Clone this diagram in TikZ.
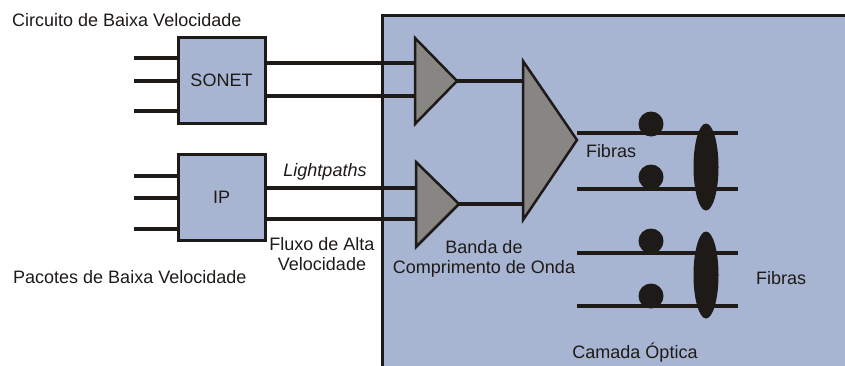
\documentclass[tikz,border=0pt]{standalone}
\usepackage{fontspec}
\setmainfont{Liberation Sans}
\definecolor{panel}{RGB}{167,181,210}
\definecolor{tri}{RGB}{135,134,131}
\definecolor{ink}{RGB}{30,26,24}
\begin{document}
\begin{tikzpicture}[x=1pt,y=-1pt,
  wire/.style={draw=ink,line width=3.2pt},
  box/.style={draw=ink,fill=panel,line width=3pt,minimum width=87pt,minimum height=86pt,inner sep=0pt},
  amp/.style={draw=ink,fill=tri,line width=2.5pt,line join=miter},
  blob/.style={fill=ink},
  lbl/.style={font=\fontsize{18}{20}\selectfont,text=ink,inner sep=0pt}]
\useasboundingbox (0,0) rectangle (845,365);
\clip (0,0) rectangle (845,365);
% optical layer panel
\draw[draw=ink,fill=panel,line width=3pt] (382,15) rectangle (860,380);
% boxes
\node[box,lbl] (sonet) at (221.5,80) {SONET};
\node[box,lbl] (ip) at (221.5,197) {IP};
% inputs
\foreach \y in {58,81,111} \draw[wire] (134,\y) -- (sonet.west |- 0,\y);
\foreach \y in {176,198,229} \draw[wire] (134,\y) -- (ip.west |- 0,\y);
% triangles
\coordinate (t1a) at (415,38); \coordinate (t1b) at (415,124); \coordinate (t1) at (457,81);
\coordinate (t2a) at (416,162); \coordinate (t2b) at (416,247); \coordinate (t2) at (459,204);
\coordinate (t3a) at (523,61); \coordinate (t3b) at (523,220); \coordinate (t3) at (577,140);
% outputs to amps
\draw[wire] (sonet.east |- 0,63) -- (t1a |- 0,63);
\draw[wire] (sonet.east |- 0,96) -- (t1a |- 0,96);
\draw[wire] (ip.east |- 0,188) -- (t2a |- 0,188);
\draw[wire] (ip.east |- 0,219) -- (t2a |- 0,219);
\draw[wire] (t1) -- (t3a |- t1);
\draw[wire] (t2) -- (t3a |- t2);
\draw[amp] (t1a) -- (t1) -- (t1b) -- cycle;
\draw[amp] (t2a) -- (t2) -- (t2b) -- cycle;
\draw[amp] (t3a) -- (t3) -- (t3b) -- cycle;
% fibers
\coordinate (fe) at (738,0);
\foreach \y/\n in {133/f1,189/f2,253/f3,306/f4} {
  \coordinate (\n) at (577,\y);
  \draw[wire] (\n) -- (fe |- \n);
}
\foreach \y in {124,177,241,296} \fill[blob] (651,\y) circle (12.5);
\fill[blob] (706,167) ellipse (12.5 and 43.5);
\fill[blob] (706,275) ellipse (12.5 and 43.5);
% labels
\node[lbl,anchor=west] (l1) at (12,20) {Circuito de Baixa Velocidade};
\node[lbl,anchor=west] (l2) at (13,277) {Pacotes de Baixa Velocidade};
\node[lbl,font=\fontsize{18}{20}\selectfont\itshape] (lp) at (325,172) {Lightpaths};
\node[lbl,align=center] (fx) at (322,254.5) {Fluxo de Alta\\Velocidade};
\node[lbl,align=center] (bd) at (484,259) {Banda de\\Comprimento de Onda};
\node[lbl] (fb1) at (611,151) {Fibras};
\node[lbl] (fb2) at (781,278) {Fibras};
\node[lbl] (co) at (635,353) {Camada Óptica};
\end{tikzpicture}
\end{document}
